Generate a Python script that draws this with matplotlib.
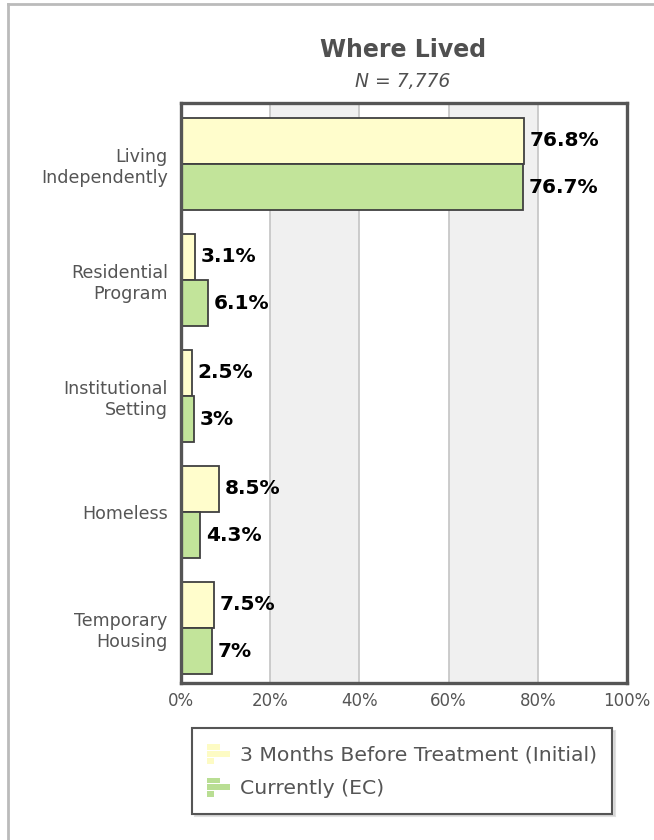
import numpy as np
import matplotlib.pyplot as plt
from matplotlib.patches import Patch, Rectangle
from matplotlib.legend_handler import HandlerBase

categories = ["Living\nIndependently", "Residential\nProgram", "Institutional\nSetting",
              "Homeless", "Temporary\nHousing"]
initial = [76.8, 3.1, 2.5, 8.5, 7.5]
current = [76.7, 6.1, 3.0, 4.3, 7.0]
initial_labels = ["76.8%", "3.1%", "2.5%", "8.5%", "7.5%"]
current_labels = ["76.7%", "6.1%", "3%", "4.3%", "7%"]
xticks = [0, 20, 40, 60, 80, 100]
xtick_labels = ["0%", "20%", "40%", "60%", "80%", "100%"]

YELLOW = "#FFFDCC"
GREEN = "#C2E49A"
EDGE = "#404040"
TEXT = "#555555"

plt.rcParams['font.family'] = 'sans-serif'
plt.rcParams['font.sans-serif'] = ['DejaVu Sans']


class BarIconHandler(HandlerBase):
    # small three-bar icon like the original legend
    def create_artists(self, legend, orig_handle, xdescent, ydescent, width, height, fontsize, trans):
        c = orig_handle.get_facecolor()
        bh = height / 3.0
        arts = []
        for k, frac in enumerate([0.55, 1.0, 0.3]):
            yy = -ydescent + height - (k + 1) * bh
            r = Rectangle((-xdescent, yy + bh * 0.08), width * frac, bh * 0.84,
                          facecolor=c, edgecolor="none", transform=trans)
            arts.append(r)
        return arts


fig = plt.figure(figsize=(6.54, 8.4), dpi=100)
ax = fig.add_axes([0.2768, 0.1869, 0.682, 0.6905])

# alternating background bands
for i in range(5):
    if i % 2 == 1:
        ax.axvspan(xticks[i], xticks[i + 1], color="#F0F0F0", zorder=0, lw=0)
for x in xticks[1:-1]:
    ax.axvline(x, color="#C8C8C8", lw=1.3, zorder=1)

y = np.arange(len(categories))
h = 0.4
ax.barh(y - h / 2, initial, height=h, color=YELLOW, edgecolor=EDGE, lw=1.3, zorder=2)
ax.barh(y + h / 2, current, height=h, color=GREEN, edgecolor=EDGE, lw=1.3, zorder=2)

for yi, v, lab in zip(y, initial, initial_labels):
    ax.annotate(lab, (v, yi - h / 2), xytext=(4, 0), textcoords="offset points",
                va="center", ha="left", fontsize=14.5, fontweight="bold", color="black", zorder=3)
for yi, v, lab in zip(y, current, current_labels):
    ax.annotate(lab, (v, yi + h / 2), xytext=(4, 0), textcoords="offset points",
                va="center", ha="left", fontsize=14.5, fontweight="bold", color="black", zorder=3)

ax.set_xlim(0, 100)
ax.set_ylim(4.474, -0.526)
ax.set_yticks(y)
ax.set_yticklabels(categories, ha="right", multialignment="right", fontsize=12.6,
                   color=TEXT, linespacing=1.2)
ax.set_xticks(xticks)
ax.set_xticklabels(xtick_labels, fontsize=12, color=TEXT)
ax.tick_params(axis="both", length=0)
ax.tick_params(axis="y", pad=9.5)
ax.tick_params(axis="x", pad=6.5)
for s in ax.spines.values():
    s.set_color("#555555")
    s.set_linewidth(2.4)

fig.text(0.616, 0.940, "Where Lived", ha="center", va="center", fontsize=17,
         fontweight="bold", color="#505050")
fig.text(0.616, 0.9035, "N = 7,776", ha="center", va="center", fontsize=13.5,
         style="italic", color="#505050")

handles = [Patch(facecolor="#FDFBC4"), Patch(facecolor="#B9DE93")]
leg = fig.legend(handles, ["3 Months Before Treatment (Initial)", "Currently (EC)"],
                 loc="upper left", bbox_to_anchor=(0.2936, 0.1333),
                 handler_map={Patch: BarIconHandler()}, fontsize=14.7,
                 frameon=True, fancybox=False, shadow={"color": "#CCCCCC", "alpha": 0.6},
                 handlelength=1.1, handleheight=1.2, handletextpad=0.5,
                 borderpad=0.75, labelspacing=0.6, borderaxespad=0)
leg.get_frame().set_edgecolor("#555555")
leg.get_frame().set_linewidth(1.5)
for t in leg.get_texts():
    t.set_color(TEXT)

# outer border (left and top)
fig.add_artist(plt.Line2D([0.0125, 0.0125], [0, 0.995], color="#BBBBBB", lw=2,
                          transform=fig.transFigure))
fig.add_artist(plt.Line2D([0.0125, 1], [0.995, 0.995], color="#BBBBBB", lw=2,
                          transform=fig.transFigure))

fig.savefig("out.png", dpi=100)
